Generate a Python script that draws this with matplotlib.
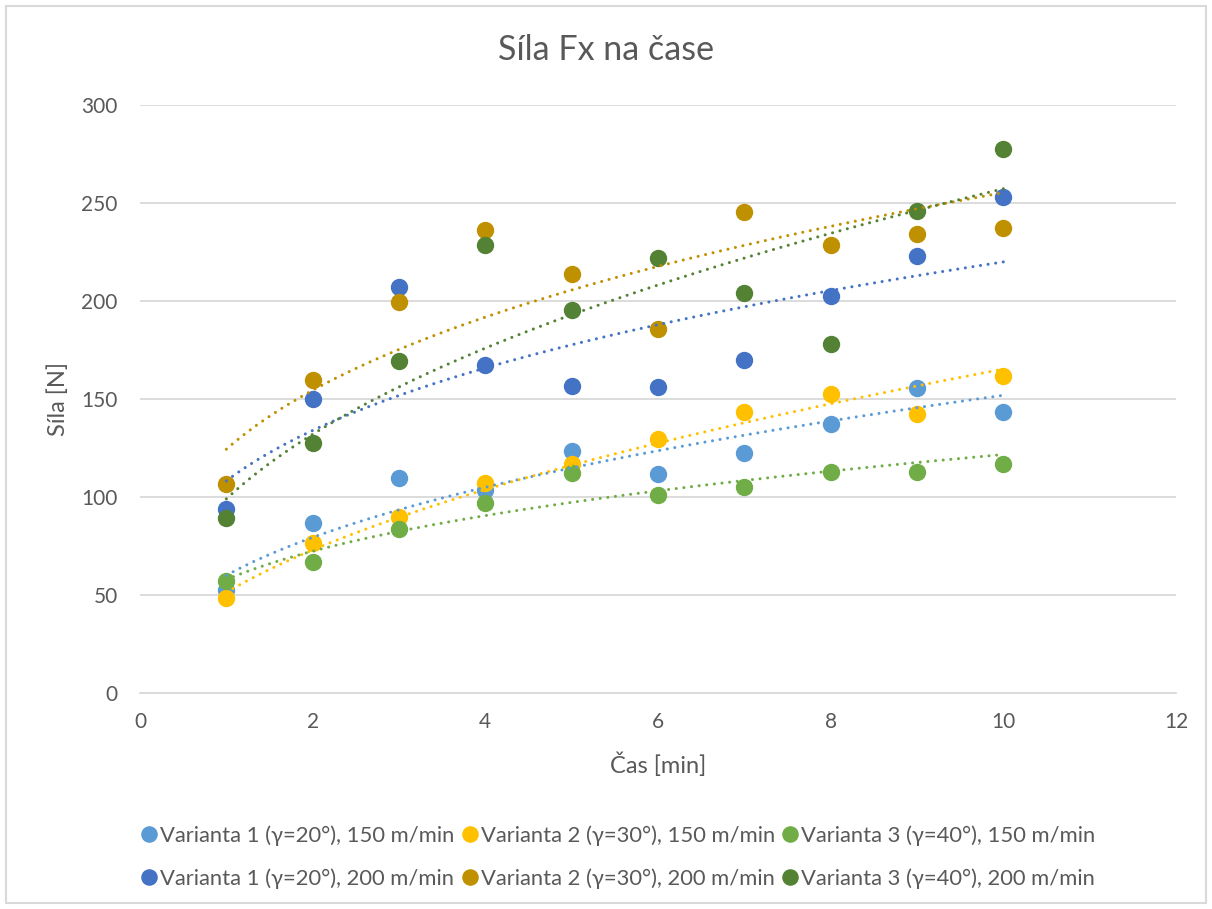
import matplotlib.pyplot as plt
import numpy as np

plt.rcParams['font.family'] = ['Lato', 'DejaVu Sans']

cas = [1, 2, 3, 4, 5, 6, 7, 8, 9, 10]

v1_150 = [52.6, 86.9, 109.9, 103.6, 123.3, 111.6, 122.4, 137.1, 155.4, 143.5]
v2_150 = [48.5, 76.4, 90.0, 107.0, 116.7, 129.8, 143.4, 152.6, 142.2, 161.7]
v3_150 = [57.3, 66.8, 83.5, 96.8, 112.4, 101.2, 104.9, 112.9, 112.9, 117.0]
v1_200 = [93.9, 149.8, 207.0, 167.2, 156.6, 156.0, 169.7, 202.6, 223.0, 253.2]
v2_200 = [106.5, 159.7, 199.5, 236.2, 213.9, 185.7, 245.2, 228.7, 234.2, 237.1]
v3_200 = [89.5, 127.7, 169.2, 228.7, 195.4, 222.1, 203.9, 178.1, 245.9, 277.7]

nazvy = ['Varianta 1 (γ=20°), 150 m/min', 'Varianta 1 (γ=20°), 200 m/min',
         'Varianta 2 (γ=30°), 150 m/min', 'Varianta 2 (γ=30°), 200 m/min',
         'Varianta 3 (γ=40°), 150 m/min', 'Varianta 3 (γ=40°), 200 m/min']
rady = [v1_150, v1_200, v2_150, v2_200, v3_150, v3_200]
barvy = ['#5B9BD5', '#4472C4', '#FFC000', '#BF9000', '#70AD47', '#548235']

text_col = '#595959'
grid_col = '#D9D9D9'

fig = plt.figure(figsize=(12.12, 9.09), dpi=100)
ax = fig.add_axes([140 / 1212, 1 - 693 / 909, (1176 - 140) / 1212, (693 - 105) / 909])

x = np.array(cas, dtype=float)
xs = np.linspace(1, 10, 200)
handles = []
for y, c, n in zip(rady, barvy, nazvy):
    h, = ax.plot(x, y, 'o', ms=11.5, color=c, label=n, zorder=3)
    handles.append(h)
    # mocninna spojnice trendu (jako v Excelu)
    b, lna = np.polyfit(np.log(x), np.log(y), 1)
    ax.plot(xs, np.exp(lna) * xs ** b, color=c, lw=2.2,
            ls=(0, (0.01, 2.5)), dash_capstyle='round', zorder=4)

ax.set_xlim(0, 12)
ax.set_ylim(0, 300)
ax.set_xticks(range(0, 13, 2))
ax.set_yticks(range(0, 301, 50))
ax.grid(axis='y', color=grid_col, lw=1.3)
ax.set_axisbelow(True)
for s in ['top', 'right', 'left']:
    ax.spines[s].set_visible(False)
ax.spines['bottom'].set_color(grid_col)
ax.spines['bottom'].set_linewidth(1.3)
ax.tick_params(length=0, labelsize=15, colors=text_col)
ax.tick_params(axis='x', pad=14)
ax.tick_params(axis='y', pad=16)

fig.text(0.5, 1 - 50 / 909, 'Síla Fx na čase', fontsize=24.5, color=text_col,
         ha='center', va='center')
ax.set_xlabel('Čas [min]', fontsize=17, color=text_col, va='center')
ax.set_ylabel('Síla [N]', fontsize=17, color=text_col, va='center', ha='center')
ax.xaxis.set_label_coords(0.5, -(765 - 693) / 588)
ax.yaxis.set_label_coords(-(140 - 58) / 1036, 0.5)

fig.legend(handles=handles, loc='center', bbox_to_anchor=(619 / 1212, 1 - 857 / 909),
           ncol=3, frameon=False, fontsize=15.8, labelcolor=text_col,
           handlelength=0.6, handletextpad=0.2, columnspacing=0.4,
           labelspacing=1.0, markerscale=0.95)

fig.patches.append(plt.Rectangle((6 / 1212, 6 / 909), 1200 / 1212, 897 / 909,
                                 transform=fig.transFigure, fill=False,
                                 edgecolor=grid_col, lw=1.5))

fig.savefig('out.png', dpi=100)
